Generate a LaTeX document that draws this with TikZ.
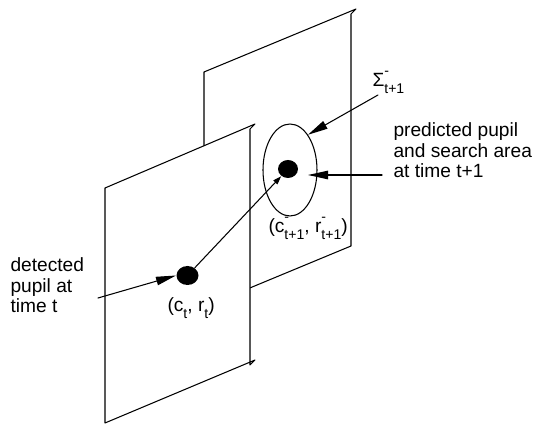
\documentclass[tikz,border=0pt]{standalone}
\usepackage{amsmath}
\usepackage{fontspec}
\setmainfont{Liberation Sans}
\usepackage{tikz}
\usetikzlibrary{arrows.meta, shapes.geometric}

% letter with "-" above and "t+1" below
\newcommand{\prd}[1]{#1\rlap{\raisebox{0.6em}{\footnotesize -}}\raisebox{-0.36em}{\footnotesize t+1}}
\newcommand{\tsb}[1]{#1\raisebox{-0.36em}{\footnotesize t}}

\begin{document}
\begin{tikzpicture}[>={Triangle[length=0.4cm, width=0.17cm]}, line cap=round, line join=round, line width=0.6pt,
  pupil/.style={ellipse, fill=black, inner sep=0, minimum width=0.44cm, minimum height=0.38cm},
  lbl/.style={inner sep=0, font=\fontsize{10.9}{11.6}\selectfont, align=left},
  motion/.style={-{Triangle[length=0.17cm, width=0.11cm]}}]

  \useasboundingbox (0,0) rectangle (10.9,8.48);

  %--------------------------
  % Plane at time t+1 (behind)
  %--------------------------
  \draw (4.08,2.34) -- (4.08,7.04) -- (7.12,8.30) -- (7.02,8.20) -- (7.02,3.56) -- cycle;

  % Search area and predicted pupil
  \node[ellipse, draw, inner sep=0, minimum width=1.08cm, minimum height=1.84cm] (search) at (5.80,5.08) {};
  \node[pupil, minimum width=0.40cm, minimum height=0.36cm] (cpred) at (5.76,5.10) {};

  %--------------------------
  % Plane at time t (front)
  %--------------------------
  \draw[fill=white] (2.10,0.02) -- (2.10,4.72) -- (5.10,6.00) -- (5.00,5.90) -- (5.00,1.18) -- (5.10,1.28) -- cycle;

  % Detected pupil
  \node[pupil] (ct) at (3.75,2.97) {};

  % Labels
  \node[lbl, anchor=base west] (sigmalbl) at (7.44,6.74) {\prd{Σ}};
  \node[lbl, anchor=base west] (predlbl) at (7.86,4.93) {predicted pupil\\and search area\\at time t+1};
  \node[lbl, anchor=base west] (cpredlbl) at (5.36,3.82) {(\prd{c}, \prd{r})};
  \node[lbl, anchor=base west] (ctlbl) at (3.34,2.24) {(\tsb{c}, \tsb{r})};
  \node[lbl, anchor=base west] (detlbl) at (0.20,2.23) {detected\\pupil at\\time t};

  % Arrows
  \coordinate (sigmatail) at (7.56,6.58);
  \coordinate (predtail) at (7.64,4.98);
  \coordinate (predtip) at (6.16,4.98);
  \coordinate (dettail) at (1.96,2.52);

  \draw[->] (sigmatail) -- (search.63);
  \draw[->] (predtail) -- (predtip);
  \draw[->] (dettail) -- (ct.west);
  \draw[motion] (ct) -- (cpred);

\end{tikzpicture}
\end{document}
